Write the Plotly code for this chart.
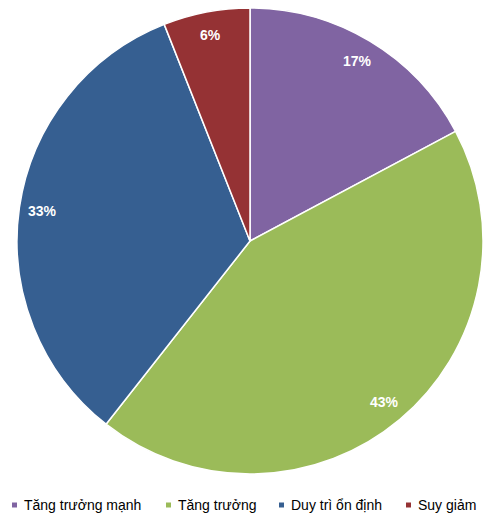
import math
import plotly.graph_objects as go

categories = ["Tăng trưởng mạnh", "Tăng trưởng", "Duy trì ổn định", "Suy giảm"]
values = [17.2, 43.4, 33.4, 6.0]
colors = ["#8064A2", "#9BBB59", "#365F91", "#953234"]

# the page body has an 8px margin, so the figure is sized to fit inside it
W, H = 484, 511
ml, mt, pw, ph = 9, 0, 466, 466
mr, mb = W - ml - pw, H - mt - ph

fig = go.Figure()
fig.add_trace(go.Pie(
    labels=categories, values=values, sort=False, direction="clockwise",
    rotation=0, marker=dict(colors=colors, line=dict(color="white", width=1.5)),
    textinfo="none", hoverinfo="label+percent", showlegend=False,
    domain=dict(x=[0, 1], y=[0, 1]),
))

annotations = []
total = sum(values)
cum = 0.0
for v in values:
    mid = (cum + v / 2) / total * 2 * math.pi
    cum += v
    r = 0.45
    annotations.append(dict(
        x=0.5 + r * math.sin(mid), y=0.5 + r * math.cos(mid),
        xref="paper", yref="paper", xanchor="center", yanchor="middle", showarrow=False,
        text=f"{round(v / total * 100)}%",
        font=dict(family="Liberation Sans, Arial, sans-serif", size=14, color="white", weight="bold"),
    ))

# custom legend row (pixel positions within the figure)
legend_px = [4, 158, 271, 398]
legend_y_px = 497
shapes = []
for name, col, px in zip(categories, colors, legend_px):
    x0 = (px - ml) / pw
    x1 = (px + 5 - ml) / pw
    yc = (mt + ph - legend_y_px) / ph
    hh = 2.5 / ph
    shapes.append(dict(type="rect", xref="paper", yref="paper", x0=x0, x1=x1,
                       y0=yc - hh, y1=yc + hh, fillcolor=col, line=dict(width=0)))
    annotations.append(dict(
        x=(px + 10 - ml) / pw, y=yc, xref="paper", yref="paper", xanchor="left",
        yanchor="middle", showarrow=False, text=name,
        font=dict(family="Liberation Sans, Arial, sans-serif", size=14, color="black"),
    ))

fig.update_layout(
    width=W, height=H, margin=dict(l=ml, r=mr, t=mt, b=mb),
    paper_bgcolor="white", plot_bgcolor="white",
    annotations=annotations, shapes=shapes, showlegend=False,
)
fig.write_html("out.html")
